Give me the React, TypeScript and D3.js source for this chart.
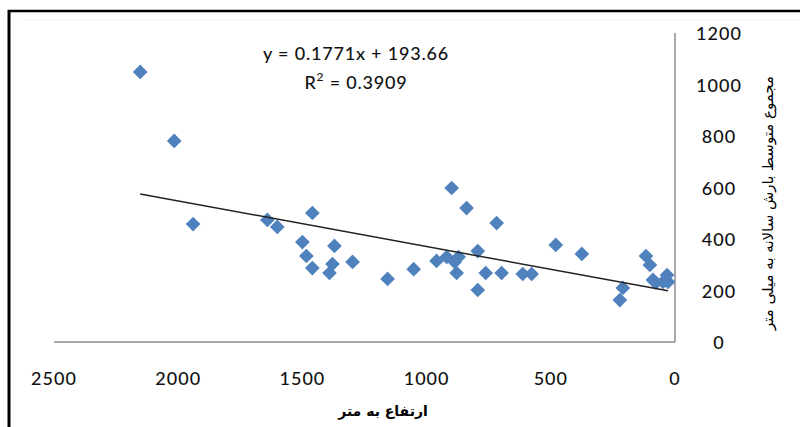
import * as d3 from "d3";

// elevation (m) of each station
const ELEVATION = [
  2153, 2016, 1940, 1641, 1601, 1460, 1500, 1371, 1484, 1460, 1379, 1391, 1298,
  1157, 1052, 899, 839, 718, 960, 919, 887, 871, 879, 794, 762, 794, 698, 613,
  577, 480, 375, 210, 222, 117, 101, 89, 77, 32, 28, 48,
];
// summed mean annual rainfall (mm)
const RAINFALL = [
  1049, 781, 458, 474, 447, 501, 388, 373, 334, 287, 303, 268, 311, 245, 283,
  598, 520, 462, 315, 330, 311, 330, 268, 353, 268, 202, 268, 264, 264, 377,
  342, 210, 163, 334, 299, 241, 230, 260, 233, 233,
];

const SLOPE = 0.1771;
const INTERCEPT = 193.66;
const R2 = 0.3909;

const X_TICKS = [2500, 2000, 1500, 1000, 500, 0];
const Y_TICKS = [0, 200, 400, 600, 800, 1000, 1200];

const X_TITLE = "ارتفاع به متر";
const Y_TITLE = "مجموع متوسط بارش سالانه به میلی متر";

const W = 800;
const H = 427;
const PLOT = { left: 54, right: 675, top: 33, bottom: 342 };
const BLUE = "#4F81BD";
const LABEL_FONT = "Lato, 'Open Sans', sans-serif";

export default function App() {
  const x = d3.scaleLinear().domain([2500, 0]).range([PLOT.left, PLOT.right]);
  const y = d3.scaleLinear().domain([0, 1200]).range([PLOT.bottom, PLOT.top]);

  const diamond = d3.symbol().type(d3.symbolSquare).size(108)();

  const [xMin, xMax] = d3.extent(ELEVATION) as [number, number];
  const trend = d3.line<number>()
    .x((v) => x(v))
    .y((v) => y(SLOPE * v + INTERCEPT))([xMax, xMin]);

  const eqX = 356;

  return (
    <svg
      width={W}
      height={H}
      style={{ position: "absolute", left: 0, top: 0, background: "#fff" }}
    >
      {/* frame */}
      <line x1={8} x2={W} y1={11} y2={11} stroke="#000" strokeWidth={2.5} />
      <line x1={9} x2={9} y1={10} y2={H} stroke="#000" strokeWidth={3} />
      <line x1={22} x2={W} y1={20} y2={20} stroke="#f0f0f0" strokeWidth={1} />

      {/* axes */}
      <line
        x1={PLOT.left}
        x2={PLOT.right}
        y1={PLOT.bottom}
        y2={PLOT.bottom}
        stroke="#8c8c8c"
        strokeWidth={1.5}
      />
      <line
        x1={PLOT.right}
        x2={PLOT.right}
        y1={PLOT.top}
        y2={PLOT.bottom}
        stroke="#8c8c8c"
        strokeWidth={1.5}
      />

      {X_TICKS.map((t) => (
        <text
          key={`x-${t}`}
          x={x(t)}
          y={378}
          textAnchor="middle"
          dominantBaseline="central"
          fill="#111"
          style={{ font: `500 18px ${LABEL_FONT}`, letterSpacing: "1px" }}
        >
          {t}
        </text>
      ))}

      {Y_TICKS.map((t) => (
        <text
          key={`y-${t}`}
          x={719}
          y={y(t)}
          textAnchor="middle"
          dominantBaseline="central"
          fill="#111"
          style={{ font: `500 18px ${LABEL_FONT}`, letterSpacing: "1px" }}
        >
          {t}
        </text>
      ))}

      {/* points */}
      {ELEVATION.map((e, i) => (
        <path
          key={i}
          d={diamond}
          transform={`translate(${x(e)},${y(RAINFALL[i])}) rotate(45)`}
          fill={BLUE}
        />
      ))}

      {/* trendline */}
      <path d={trend ?? ""} fill="none" stroke="#222" strokeWidth={1.5} />

      <text
        x={eqX}
        y={53}
        textAnchor="middle"
        dominantBaseline="central"
        fill="#111"
        style={{ font: `500 18px ${LABEL_FONT}`, letterSpacing: "0.8px" }}
      >
        {`y = ${SLOPE}x + ${INTERCEPT}`}
      </text>
      <text
        x={eqX}
        y={82}
        textAnchor="middle"
        dominantBaseline="central"
        fill="#111"
        style={{ font: `500 18px ${LABEL_FONT}`, letterSpacing: "0.8px" }}
      >
        R
        <tspan dy={-6} style={{ fontSize: "12px" }}>2</tspan>
        <tspan dy={6}>{` = ${R2}`}</tspan>
      </text>

      {/* axis titles */}
      <text
        x={383}
        y={411}
        textAnchor="middle"
        dominantBaseline="central"
        fill="#000"
        direction="rtl"
        style={{ font: "bold 14px 'DejaVu Sans', sans-serif" }}
      >
        {X_TITLE}
      </text>
      <text
        transform={`translate(768, 203) rotate(-90)`}
        textAnchor="middle"
        dominantBaseline="central"
        fill="#000"
        direction="rtl"
        style={{ font: "15px 'DejaVu Sans', sans-serif" }}
      >
        {Y_TITLE}
      </text>
    </svg>
  );
}
